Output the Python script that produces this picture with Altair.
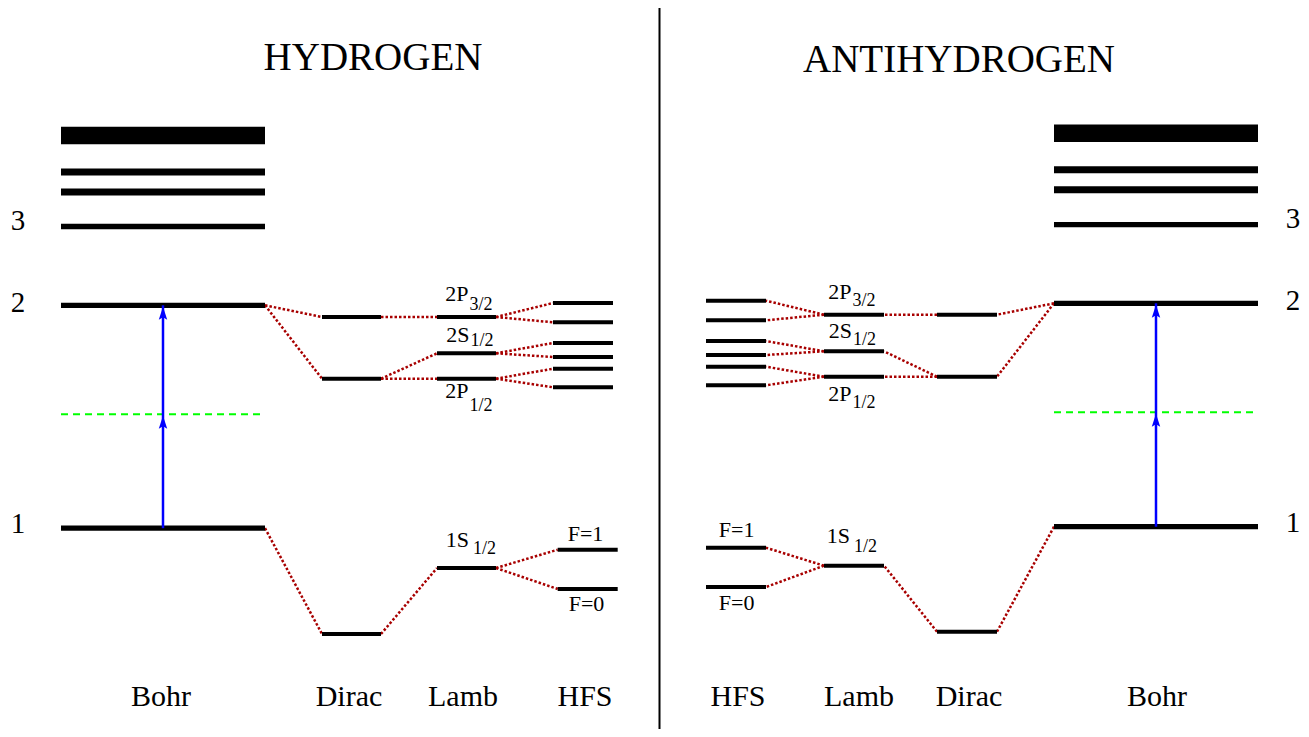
import altair as alt
import pandas as pd

FONT = "Liberation Serif"

# ---------------------------------------------------------------------------
# Values (figure pixel units: x to the right, y downward)
# ---------------------------------------------------------------------------
# Column extents (left end, right end) for each side
H_COLS = {"Bohr": [61, 265], "Dirac": [322, 381], "Lamb": [437, 496],
          "HFS2": [553, 613], "HFS1": [557.7, 617.7]}
A_COLS = {"Bohr": [1054, 1258], "Dirac": [937, 997], "Lamb": [824, 884],
          "HFS2": [706, 766], "HFS1": [706, 766]}

# Hydrogen (left half) level heights
H_BAND = [135.5]                         # n >= 6 (merged band)
H_UPPER = [172, 192]                     # n = 5, 4
H_BOHR = [226.5, 305.3, 528.2]           # n = 3, 2, 1
H_DIRAC = [317, 378.7, 634]              # 2P3/2 ; 2S1/2=2P1/2 ; 1S1/2
H_LAMB = [317, 353.3, 378.7, 568]        # 2P3/2 ; 2S1/2 ; 2P1/2 ; 1S1/2
H_HFS2 = [303, 322.3, 343, 357, 368.7, 387.3]
H_HFS1 = [549.7, 589]                    # F=1 ; F=0
H_VIRTUAL = 414.3                        # two-photon virtual level

# Antihydrogen (right half) level heights
A_BAND = [133.3]
A_UPPER = [169.7, 189.7]
A_BOHR = [224.7, 303.3, 526.7]
A_DIRAC = [314.7, 376.7, 631.7]
A_LAMB = [314.7, 351.3, 376.7, 565.7]
A_HFS2 = [300.7, 320.3, 341, 355, 366.7, 385.3]
A_HFS1 = [547.7, 587]
A_VIRTUAL = 412.3

# Which levels split into which (column, index) -> (column, index)
LINKS = [
    (("Bohr", 1), ("Dirac", 0)), (("Bohr", 1), ("Dirac", 1)),
    (("Dirac", 0), ("Lamb", 0)),
    (("Dirac", 1), ("Lamb", 1)), (("Dirac", 1), ("Lamb", 2)),
    (("Lamb", 0), ("HFS2", 0)), (("Lamb", 0), ("HFS2", 1)),
    (("Lamb", 1), ("HFS2", 2)), (("Lamb", 1), ("HFS2", 3)),
    (("Lamb", 2), ("HFS2", 4)), (("Lamb", 2), ("HFS2", 5)),
    (("Bohr", 2), ("Dirac", 2)),
    (("Dirac", 2), ("Lamb", 3)),
    (("Lamb", 3), ("HFS1", 0)), (("Lamb", 3), ("HFS1", 1)),
]

# Text
TITLES = ["HYDROGEN", "ANTIHYDROGEN"]
TITLE_X = [373, 959]
TITLE_Y = [70, 72]

COL_NAMES = ["Bohr", "Dirac", "Lamb", "HFS", "HFS", "Lamb", "Dirac", "Bohr"]
COL_NAME_X = [161, 349, 463, 585, 738, 859, 969, 1157]
COL_NAME_Y = 706

N_LABELS = ["3", "2", "1", "3", "2", "1"]
N_LABEL_X = [18, 18, 18, 1293, 1293, 1293]
N_LABEL_Y = [230, 311.7, 533, 228, 310, 532]

STATE_MAIN = ["2P", "2S", "2P", "1S", "2P", "2S", "2P", "1S"]
STATE_SUB = ["3/2", "1/2", "1/2", "1/2", "3/2", "1/2", "1/2", "1/2"]
STATE_MAIN_X = [468.5, 469.5, 468.5, 469, 851.5, 852, 851.5, 850]
STATE_MAIN_Y = [301, 342, 398.3, 546.7, 298.5, 338.3, 401, 543.3]
STATE_SUB_X = [469.5, 470.5, 469.5, 473, 852.5, 853, 852.5, 854]
STATE_SUB_Y = [310, 346, 410.7, 554, 306, 345, 408, 551.7]

F_LABELS = ["F=1", "F=0", "F=1", "F=0"]
F_LABEL_X = [585.5, 586.5, 736.7, 736.7]
F_LABEL_Y = [541, 611, 536.7, 610]

DIVIDER_X = 659.5

# ---------------------------------------------------------------------------
# Build tables
# ---------------------------------------------------------------------------
def side_levels(side, cols, band, upper, bohr, dirac, lamb, hfs2, hfs1):
    rows = []
    groups = [("Bohr", band, "band"), ("Bohr", upper, "upper"),
              ("Bohr", bohr, "bohr"), ("Dirac", dirac, "fine"),
              ("Lamb", lamb, "fine"), ("HFS2", hfs2, "fine"),
              ("HFS1", hfs1, "fine")]
    for col, ys, kind in groups:
        for i, y in enumerate(ys):
            rows.append(dict(side=side, col=col, i=i, kind=kind,
                             x=cols[col][0], x2=cols[col][1], y=y))
    return rows


levels = pd.DataFrame(
    side_levels("H", H_COLS, H_BAND, H_UPPER, H_BOHR, H_DIRAC, H_LAMB, H_HFS2, H_HFS1)
    + side_levels("A", A_COLS, A_BAND, A_UPPER, A_BOHR, A_DIRAC, A_LAMB, A_HFS2, A_HFS1)
)

conn_rows = []
for side in ["H", "A"]:
    lv = levels[(levels.side == side) & (levels.kind != "band") & (levels.kind != "upper")]
    for (ca, ia), (cb, ib) in LINKS:
        a = lv[(lv.col == ca) & (lv.i == ia)].iloc[0]
        b = lv[(lv.col == cb) & (lv.i == ib)].iloc[0]
        if a.x2 <= b.x:
            xa, xb = a.x2, b.x
        else:
            xa, xb = a.x, b.x2
        conn_rows.append(dict(x=xa, y=a.y, x2=xb, y2=b.y))
conns = pd.DataFrame(conn_rows)

virt = pd.DataFrame({
    "x": [H_COLS["Bohr"][0], A_COLS["Bohr"][0]],
    "x2": [H_COLS["Bohr"][1], A_COLS["Bohr"][1]],
    "y": [H_VIRTUAL, A_VIRTUAL],
})

arrow_x = [(H_COLS["Bohr"][0] + H_COLS["Bohr"][1]) / 2,
           (A_COLS["Bohr"][0] + A_COLS["Bohr"][1]) / 2]
arrows = pd.DataFrame({"x": arrow_x, "y": [H_BOHR[2], A_BOHR[2]],
                       "y2": [H_BOHR[1], A_BOHR[1]]})
heads = pd.DataFrame({"x": arrow_x * 2,
                      "y": [H_VIRTUAL, A_VIRTUAL, H_BOHR[1], A_BOHR[1]]})

titles = pd.DataFrame({"t": TITLES, "x": TITLE_X, "y": TITLE_Y})
colnames = pd.DataFrame({"t": COL_NAMES, "x": COL_NAME_X, "y": [COL_NAME_Y] * len(COL_NAMES)})
nlabels = pd.DataFrame({"t": N_LABELS, "x": N_LABEL_X, "y": N_LABEL_Y})
smain = pd.DataFrame({"t": STATE_MAIN, "x": STATE_MAIN_X, "y": STATE_MAIN_Y})
ssub = pd.DataFrame({"t": STATE_SUB, "x": STATE_SUB_X, "y": STATE_SUB_Y})
flabels = pd.DataFrame({"t": F_LABELS, "x": F_LABEL_X, "y": F_LABEL_Y})
divider = pd.DataFrame({"x": [DIVIDER_X], "y": [8], "y2": [737]})

# ---------------------------------------------------------------------------
# Chart
# ---------------------------------------------------------------------------
W, H = 1293, 721
XS = alt.Scale(domain=[8, 8 + W], nice=False, zero=False)
YS = alt.Scale(domain=[8 + H, 8], nice=False, zero=False)


def X(f="x"):
    return alt.X(f, type="quantitative", scale=XS, axis=None)


def Y(f="y"):
    return alt.Y(f, type="quantitative", scale=YS, axis=None)


layers = []

# divider
layers.append(alt.Chart(divider).mark_rule(color="black", strokeWidth=2).encode(
    x=X(), y=Y(), y2=alt.Y2("y2")))

# connectors (dotted dark red)
layers.append(alt.Chart(conns).mark_rule(color="#a80000", strokeWidth=2.5,
                                          strokeDash=[2.5, 2], strokeCap="butt").encode(
    x=X(), y=Y(), x2=alt.X2("x2"), y2=alt.Y2("y2")))

# energy levels
widths = {"band": 17.5, "upper": 7, "bohr": 5.3, "fine": 4}
for kind, w in widths.items():
    layers.append(alt.Chart(levels).transform_filter(alt.datum.kind == kind)
                  .mark_rule(color="black", strokeWidth=w, strokeCap="butt")
                  .encode(x=X(), x2=alt.X2("x2"), y=Y()))

# virtual level (green dashed)
layers.append(alt.Chart(virt).mark_rule(color="#00ff00", strokeWidth=2,
                                         strokeDash=[7, 5], strokeCap="butt").encode(
    x=X(), x2=alt.X2("x2"), y=Y()))

# two-photon arrow
layers.append(alt.Chart(arrows).mark_rule(color="#0000ff", strokeWidth=2.5).encode(
    x=X(), y=Y(), y2=alt.Y2("y2")))
layers.append(alt.Chart(heads).mark_point(
    shape="M0,-1L0.65,1L0,0.6L-0.65,1Z", filled=True, opacity=1,
    color="#0000ff", size=169, yOffset=8, strokeWidth=0).encode(x=X(), y=Y()))


def text_layer(df, size, align="center"):
    return alt.Chart(df).mark_text(font=FONT, fontSize=size, align=align,
                                   baseline="alphabetic", color="black").encode(
        x=X(), y=Y(), text="t:N")


layers.append(text_layer(titles, 39))
layers.append(text_layer(colnames, 30))
layers.append(text_layer(nlabels, 29))
layers.append(text_layer(smain, 22, "right"))
layers.append(text_layer(ssub, 18, "left"))
layers.append(text_layer(flabels, 22))

chart = alt.layer(*layers).properties(
    width=W, height=H, padding=0,
    autosize=alt.AutoSizeParams(type="none"),
).configure_view(stroke=None)

chart.save("out.html", embed_options={"renderer": "svg", "actions": False})
